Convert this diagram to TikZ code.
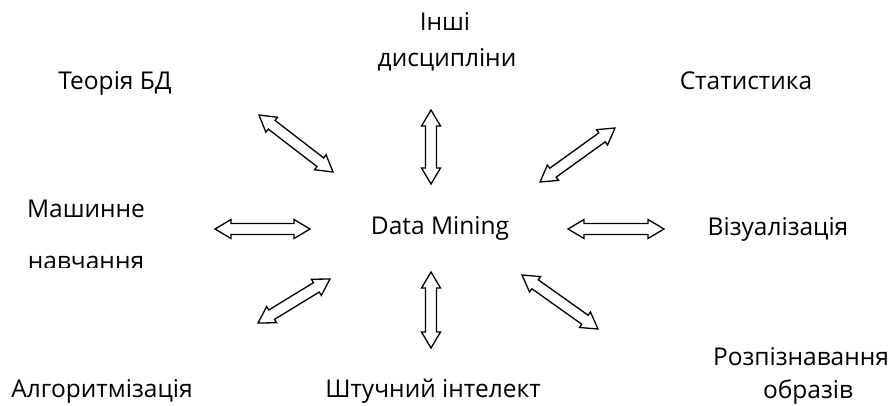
\documentclass[tikz,border=0pt]{standalone}
\usepackage{fontspec}
\setmainfont{Open Sans}
\usetikzlibrary{calc}
\tikzset{
  lbl/.style={inner sep=0pt, anchor=base, font=\fontsize{24.5}{28}\selectfont},
  harrow/.style={draw=black, line width=1.3pt, fill=white, line join=miter}
}
\newcommand{\hollowarrow}[2]{%
  \draw[harrow] (#1)
    -- ($(#1)!16pt!(#2)!9.5pt!90:(#2)$)
    -- ($(#1)!16pt!(#2)!5.5pt!90:(#2)$)
    -- ($(#2)!16pt!(#1)!5.5pt!-90:(#1)$)
    -- ($(#2)!16pt!(#1)!9.5pt!-90:(#1)$)
    -- (#2)
    -- ($(#2)!16pt!(#1)!9.5pt!90:(#1)$)
    -- ($(#2)!16pt!(#1)!5.5pt!90:(#1)$)
    -- ($(#1)!16pt!(#2)!5.5pt!-90:(#2)$)
    -- ($(#1)!16pt!(#2)!9.5pt!-90:(#2)$)
    -- cycle;}
\begin{document}
\begin{tikzpicture}[x=1pt,y=-1pt]
\useasboundingbox (0,0) rectangle (893,405);
% labels
\node[lbl] (inshi1) at (445,30) {Інші};
\node[lbl] (inshi2) at (447,66) {дисципліни};
\node[lbl] (teor) at (115,89) {Теорія БД};
\node[lbl] (stat) at (746,89) {Статистика};
\node[lbl] (mash1) at (86,217) {Машинне};
\begin{scope}
  \clip (0,240) rectangle (200,267);
  \node[lbl] (mash2) at (86,269) {навчання};
\end{scope}
\node[lbl] (dm) at (440,234) {Data Mining};
\node[lbl] (viz) at (778,235) {Візуалізація};
\node[lbl] (alg) at (102,397) {Алгоритмізація};
\node[lbl] (ai) at (433,397) {Штучний інтелект};
\node[lbl] (roz1) at (801,365) {Розпізнавання};
\node[lbl] (roz2) at (808,398) {образів};
% arrow ends
\coordinate (a1s) at (259,115); \coordinate (a1e) at (333,172);
\coordinate (a2s) at (431,110); \coordinate (a2e) at (431,184);
\coordinate (a3s) at (615,128); \coordinate (a3e) at (540,182);
\coordinate (a4s) at (215,229); \coordinate (a4e) at (310,229);
\coordinate (a5s) at (568,229); \coordinate (a5e) at (664,229);
\coordinate (a6s) at (330,279); \coordinate (a6e) at (258,323);
\coordinate (a7s) at (431,272); \coordinate (a7e) at (431,348);
\coordinate (a8s) at (522,275); \coordinate (a8e) at (598,329);
\hollowarrow{a1s}{a1e}
\hollowarrow{a2s}{a2e}
\hollowarrow{a3s}{a3e}
\hollowarrow{a4s}{a4e}
\hollowarrow{a5s}{a5e}
\hollowarrow{a6s}{a6e}
\hollowarrow{a7s}{a7e}
\hollowarrow{a8s}{a8e}
\end{tikzpicture}
\end{document}
